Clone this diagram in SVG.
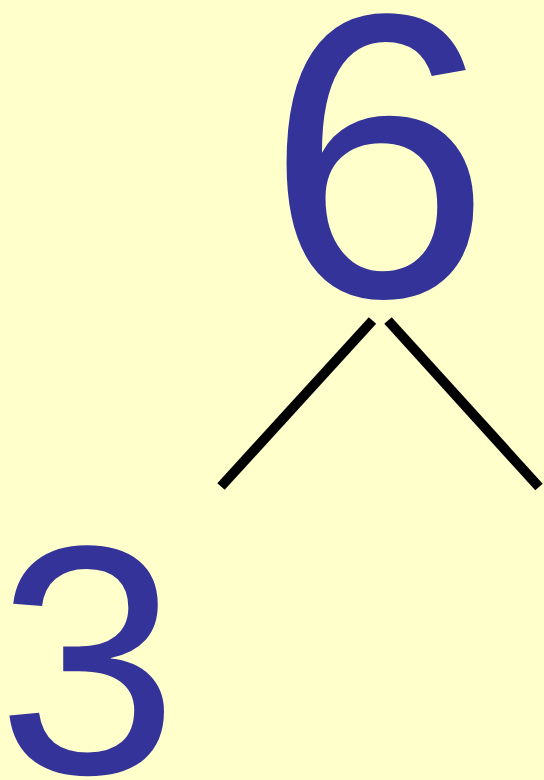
<svg xmlns="http://www.w3.org/2000/svg" width="544" height="780" viewBox="0 0 544 780">
<style>
.num{font-family:"Liberation Sans",Arial,sans-serif;fill:#333399}
.edge{stroke:#000;stroke-width:10;stroke-linecap:butt;fill:none}
</style>
<rect width="544" height="780" fill="#FFFFCC"/>
<g id="node6"><text class="num" x="266" y="296" font-size="405">6</text></g>
<g id="node3"><text class="num" x="-3" y="773" font-size="326">3</text></g>
<g id="connectors">
<line class="edge" x1="372.5" y1="320.5" x2="221" y2="486.5"/>
<line class="edge" x1="388" y1="320.5" x2="539" y2="487"/>
</g>
</svg>
